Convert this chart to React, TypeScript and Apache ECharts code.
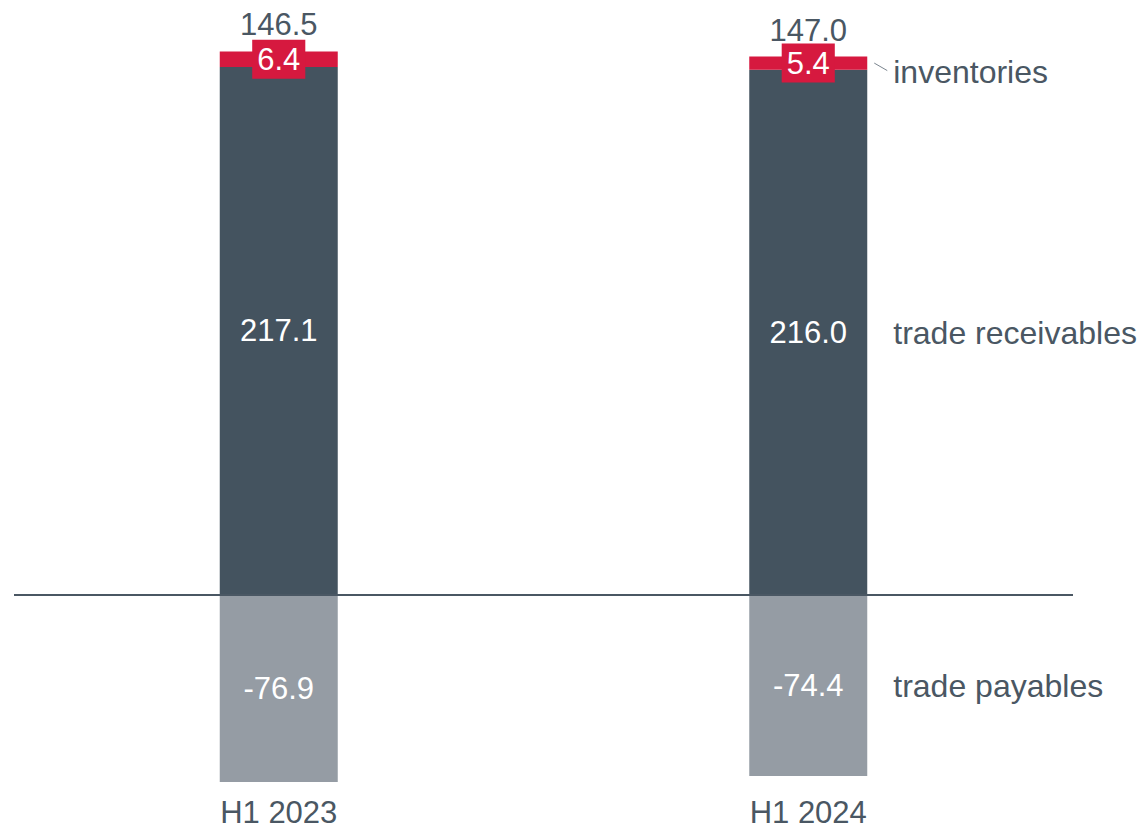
import React, { useEffect, useRef } from "react";
import * as echarts from "echarts";

const categories = ["H1 2023", "H1 2024"];
const receivables = [217.1, 216.0];
const inventories = [6.4, 5.4];
const payables = [-76.9, -74.4];
const totals = [146.5, 147.0];
const seriesNames = ["trade receivables", "inventories", "trade payables"];

const FONT = "'Liberation Sans', Arial, Helvetica, sans-serif";
const TEXT = "#4a5763";
const DARK = "#44535f";
const RED = "#d6193f";
const GREY = "#959ca4";
const FS = 31;
const BAR_W = 118;

export default function App() {
  const ref = useRef<HTMLDivElement>(null);
  useEffect(() => {
    if (!ref.current) return;
    const chart = echarts.init(ref.current, null, { renderer: "svg" });
    const tops = receivables.map((r, i) => +(r + inventories[i]).toFixed(1));
    chart.setOption({
      animation: false,
      grid: { left: 14, right: 69, top: 35.6, bottom: 39.5 },
      xAxis: {
        type: "category",
        data: categories,
        axisLine: { show: false },
        axisTick: { show: false },
        axisLabel: { color: TEXT, fontSize: FS, fontFamily: FONT, margin: 7 },
      },
      yAxis: {
        type: "value",
        min: -80,
        max: 230,
        show: false,
        splitLine: { show: false },
      },
      series: [
        {
          name: seriesNames[0],
          type: "bar",
          stack: "wc",
          barWidth: BAR_W,
          barGap: "-100%",
          data: receivables,
          itemStyle: { color: DARK },
          label: {
            show: true,
            position: "inside",
            color: "#ffffff",
            fontSize: FS,
            fontFamily: FONT,
            formatter: (p: any) => Number(p.value).toFixed(1),
          },
          markLine: {
            silent: true,
            symbol: ["none", "none"],
            label: { show: false },
            lineStyle: { color: TEXT, width: 2, type: "solid" },
            data: [{ yAxis: 0 }],
          },
        },
        {
          name: seriesNames[1],
          type: "bar",
          stack: "wc",
          barWidth: BAR_W,
          barGap: "-100%",
          data: inventories,
          itemStyle: { color: RED },
          label: {
            show: true,
            position: "inside",
            color: "#ffffff",
            fontSize: FS,
            fontFamily: FONT,
            backgroundColor: RED,
            padding: [3, 5, 3, 5],
            lineHeight: 33,
            formatter: (p: any) => Number(p.value).toFixed(1),
          },
        },
        {
          name: seriesNames[2],
          type: "bar",
          stack: "wc",
          barWidth: BAR_W,
          barGap: "-100%",
          data: payables,
          itemStyle: { color: GREY },
          label: {
            show: true,
            position: "inside",
            color: "#ffffff",
            fontSize: FS,
            fontFamily: FONT,
            formatter: (p: any) => Number(p.value).toFixed(1),
          },
        },
        {
          name: "total",
          type: "bar",
          barWidth: BAR_W,
          barGap: "-100%",
          data: tops,
          silent: true,
          z: 1,
          itemStyle: { color: "rgba(0,0,0,0)" },
          label: {
            show: true,
            position: "top",
            distance: 11,
            color: TEXT,
            fontSize: FS,
            fontFamily: FONT,
            formatter: (p: any) => totals[p.dataIndex].toFixed(1),
          },
        },
      ],
    });

    const last = categories.length - 1;
    const xc = (chart.convertToPixel({ gridIndex: 0 }, [last, 0]) as number[])[0];
    const right = xc + BAR_W / 2;
    const yRec = (chart.convertToPixel({ gridIndex: 0 }, [last, receivables[last] / 2]) as number[])[1];
    const yPay = (chart.convertToPixel({ gridIndex: 0 }, [last, payables[last] / 2]) as number[])[1];
    const yInv = (chart.convertToPixel({ gridIndex: 0 }, [last, receivables[last] + inventories[last] / 2]) as number[])[1];
    const tx = right + 26;
    const mk = (text: string, y: number) => ({
      type: "text",
      x: tx,
      y,
      silent: true,
      style: { text, fill: TEXT, fontSize: 32, fontFamily: FONT, align: "left", verticalAlign: "middle" },
    });
    chart.setOption({
      graphic: [
        mk(seriesNames[0], yRec + 1),
        mk(seriesNames[1], yInv + 9),
        mk(seriesNames[2], yPay + 1),
        {
          type: "line",
          silent: true,
          shape: { x1: right + 7, y1: yInv, x2: right + 20, y2: yInv + 7.5 },
          style: { stroke: "#7a848e", lineWidth: 1 },
        },
      ],
    });
    return () => chart.dispose();
  }, []);
  return (
    <div
      ref={ref}
      style={{ position: "absolute", left: 0, top: 0, width: 1142, height: 829 }}
    />
  );
}
